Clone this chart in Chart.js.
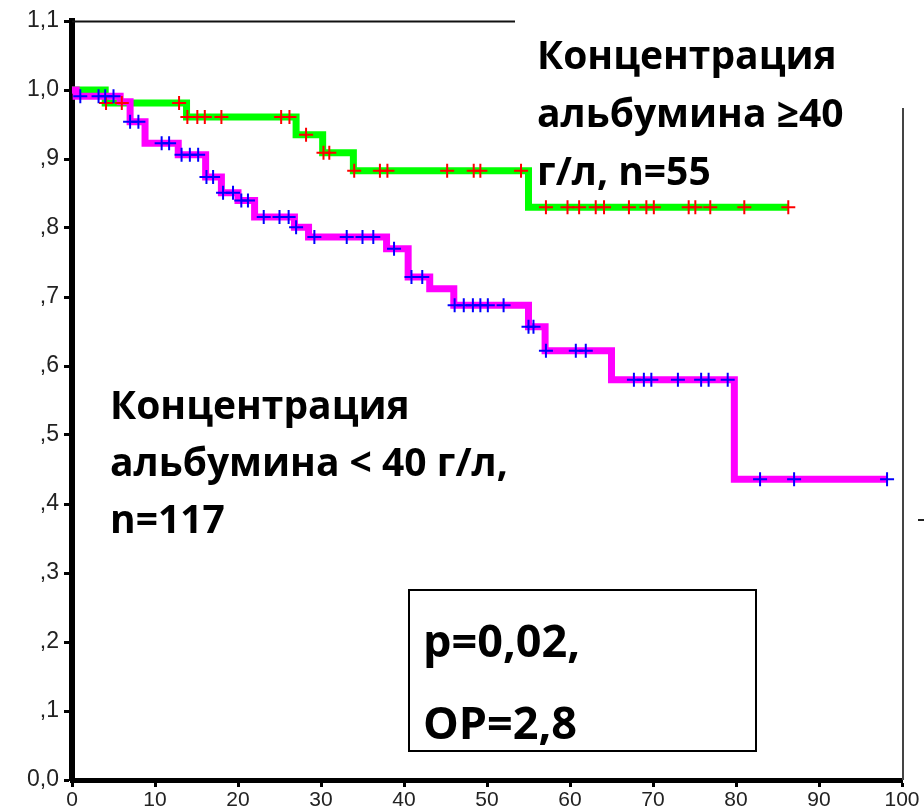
<!DOCTYPE html>
<html>
<head>
<meta charset="utf-8">
<script src="https://cdn.jsdelivr.net/npm/chart.js@4.4.1/dist/chart.umd.min.js"></script>
<style>
  html, body { margin: 0; padding: 0; background: #fff; }
  #wrap { width: 924px; height: 811px; position: relative; }
</style>
</head>
<body>
<div id="wrap"><canvas id="km" width="924" height="811"></canvas></div>
<script>
// Kaplan–Meier survival, albumin < 40 g/l (n=117): event times and survival after each step
const timeLow = [0, 0.5, 5.8, 7.0, 8.8, 12.8, 16.1, 18.0, 20.0, 22.0, 26.8, 28.5, 37.9, 40.5, 43.1, 46.0, 55.0, 57.0, 65.0, 79.8, 98.2];
const survLow = [1.0, 0.991, 0.983, 0.954, 0.923, 0.906, 0.874, 0.851, 0.840, 0.816, 0.801, 0.787, 0.770, 0.729, 0.712, 0.688, 0.657, 0.622, 0.580, 0.436, 0.436];
// censored observations, albumin < 40 g/l
const censorLow = [1.0, 3.2, 4.0, 5.0, 7.0, 8.0, 10.8, 11.7, 13.2, 14.2, 15.2, 16.2, 17.0, 18.2, 19.4, 20.4, 21.2, 23.1, 25.0, 26.1, 27.0, 29.2, 33.1, 35.0, 36.3, 38.8, 40.9, 42.2, 46.1, 47.2, 48.3, 49.2, 50.1, 52.0, 55.0, 55.6, 57.1, 60.7, 61.9, 67.7, 68.9, 69.8, 73.0, 75.8, 76.7, 79.0, 82.9, 87.0, 98.2];

// Kaplan–Meier survival, albumin >= 40 g/l (n=55)
const timeHigh = [0, 4.0, 13.8, 27.0, 30.2, 33.9, 55.0, 86.3];
const survHigh = [1.0, 0.981, 0.961, 0.935, 0.909, 0.883, 0.830, 0.830];
// censored observations, albumin >= 40 g/l
const censorHigh = [4.1, 6.0, 12.9, 13.9, 15.1, 16.0, 18.0, 25.2, 26.2, 28.2, 30.3, 31.0, 34.0, 37.1, 38.0, 45.2, 48.4, 49.2, 54.1, 57.1, 59.7, 61.1, 63.1, 64.1, 67.1, 69.2, 70.1, 74.3, 75.1, 76.9, 81.0, 86.3];

// axis tick labels
const yTickLabels = ['0,0', ',1', ',2', ',3', ',4', ',5', ',6', ',7', ',8', ',9', '1,0', '1,1'];
const xTickLabels = ['0', '10', '20', '30', '40', '50', '60', '70', '80', '90', '100'];

// annotation texts
const labelHigh = ['Концентрация', 'альбумина ≥40', 'г/л, n=55'];
const labelLow = ['Концентрация', 'альбумина < 40 г/л,', 'n=117'];
const statLines = ['p=0,02,', 'ОР=2,8'];

function stepPoints(times, surv) {
  return times.map((t, i) => ({ x: t, y: surv[i] }));
}
// survival level at time t
function levelAt(times, surv, t) {
  let s = surv[0];
  for (let i = 0; i < times.length; i++) { if (times[i] <= t) s = surv[i]; }
  return s;
}
function censorPoints(censors, times, surv) {
  return censors.map(t => ({ x: t, y: levelAt(times, surv, t) }));
}

const LABEL_FONT = 'bold 39px "Open Sans", "Noto Sans", sans-serif';
const STAT_FONT = 'bold 45px "Open Sans", "Noto Sans", sans-serif';

const decorations = {
  id: 'decorations',
  afterDraw(chart) {
    const ctx = chart.ctx;
    const a = chart.chartArea;
    ctx.save();
    // frame: top edge and right edge
    ctx.strokeStyle = '#111';
    ctx.lineWidth = 2;
    ctx.beginPath();
    ctx.moveTo(a.left, a.top + 0.5);
    ctx.lineTo(515, a.top + 0.5);
    ctx.stroke();
    ctx.strokeStyle = '#444';
    ctx.beginPath();
    ctx.moveTo(a.right + 1, 108);
    ctx.lineTo(a.right + 1, a.bottom);
    ctx.stroke();
    // stray tick on the far right
    ctx.strokeStyle = '#222';
    ctx.beginPath();
    ctx.moveTo(918, 520);
    ctx.lineTo(924, 520);
    ctx.stroke();

    // group labels
    ctx.fillStyle = '#000';
    ctx.font = LABEL_FONT;
    ctx.textAlign = 'left';
    ctx.textBaseline = 'alphabetic';
    labelHigh.forEach((s, i) => ctx.fillText(s, 537, 69 + i * 58));
    labelLow.forEach((s, i) => ctx.fillText(s, 110, 419 + i * 57));

    // statistics box
    ctx.fillStyle = '#fff';
    ctx.fillRect(409, 590, 347, 161);
    ctx.strokeStyle = '#000';
    ctx.lineWidth = 2;
    ctx.strokeRect(409, 590, 347, 161);
    ctx.fillStyle = '#000';
    ctx.font = STAT_FONT;
    statLines.forEach((s, i) => ctx.fillText(s, 423, 657 + i * 82));
    ctx.restore();
  }
};

new Chart(document.getElementById('km'), {
  type: 'scatter',
  data: {
    datasets: [
      {
        label: 'censored < 40',
        data: censorPoints(censorLow, timeLow, survLow),
        showLine: false,
        pointStyle: 'cross',
        pointRadius: 7,
        pointBorderWidth: 2,
        pointBorderColor: '#0000ff',
        pointBackgroundColor: '#0000ff'
      },
      {
        label: 'censored >= 40',
        data: censorPoints(censorHigh, timeHigh, survHigh),
        showLine: false,
        pointStyle: 'cross',
        pointRadius: 7,
        pointBorderWidth: 2,
        pointBorderColor: '#ff0000',
        pointBackgroundColor: '#ff0000'
      },
      {
        label: 'albumin < 40',
        data: stepPoints(timeLow, survLow),
        showLine: true,
        stepped: 'before',
        borderColor: '#ff00ff',
        borderWidth: 7,
        borderJoinStyle: 'miter',
        pointRadius: 0
      },
      {
        label: 'albumin >= 40',
        data: stepPoints(timeHigh, survHigh),
        showLine: true,
        stepped: 'before',
        borderColor: '#00ff00',
        borderWidth: 7,
        borderJoinStyle: 'miter',
        pointRadius: 0
      }
    ]
  },
  options: {
    responsive: false,
    animation: false,
    layout: { padding: { top: 21, right: 22, left: 0, bottom: 0 } },
    plugins: { legend: { display: false }, tooltip: { enabled: false } },
    scales: {
      x: {
        type: 'linear',
        min: 0, max: 100,
        afterFit(scale) { scale.height = 31; },
        afterBuildTicks(scale) { scale.ticks = xTickLabels.map(v => ({ value: Number(v) })); },
        ticks: {
          callback: (v) => xTickLabels[Math.round(v / 10)],
          font: { family: '"Liberation Sans", Arial, sans-serif', size: 21 },
          color: '#222',
          padding: 1,
          maxRotation: 0
        },
        grid: { drawOnChartArea: false, drawTicks: true, tickLength: 7, tickWidth: 3, color: '#000' },
        border: { display: true, width: 5, color: '#000' }
      },
      y: {
        type: 'linear',
        min: 0, max: 1.1,
        afterFit(scale) { scale.width = 72; },
        afterBuildTicks(scale) { scale.ticks = yTickLabels.map((_, i) => ({ value: i / 10 })); },
        ticks: {
          callback: (v) => yTickLabels[Math.round(v * 10)],
          font: { family: '"Liberation Sans", Arial, sans-serif', size: 23 },
          color: '#222',
          padding: 5
        },
        grid: { drawOnChartArea: false, drawTicks: true, tickLength: 8, tickWidth: 3, color: '#000' },
        border: { display: true, width: 6, color: '#000' }
      }
    }
  },
  plugins: [decorations]
});
</script>
</body>
</html>
